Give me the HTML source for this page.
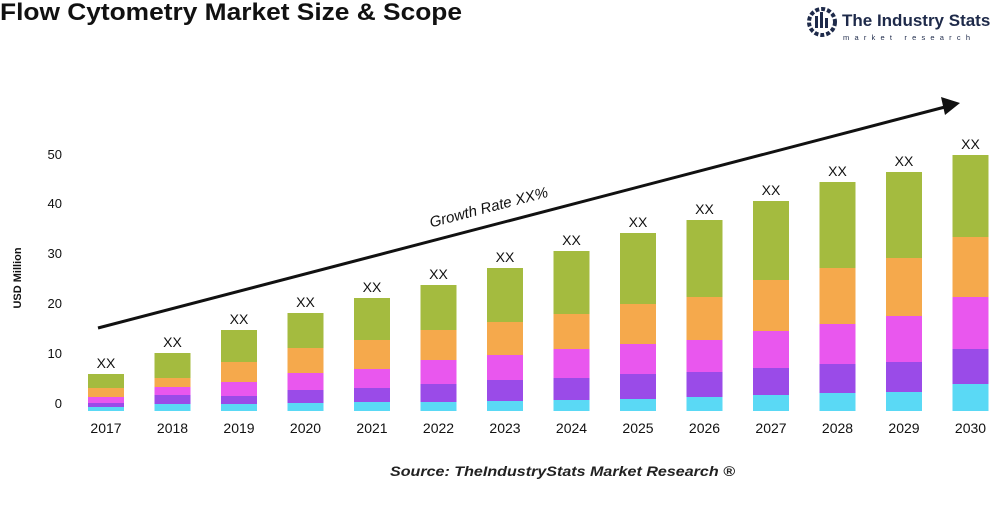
<!DOCTYPE html>
<html><head><meta charset="utf-8"><style>
body{margin:0;background:#fff;}
svg text{font-family:"Liberation Sans",Arial,sans-serif;}
</style></head><body>
<svg width="1000" height="500" viewBox="0 0 1000 500" xmlns="http://www.w3.org/2000/svg">
<text x="0" y="20" font-size="24" font-weight="bold" fill="#111" textLength="462" lengthAdjust="spacingAndGlyphs">Flow Cytometry Market Size &amp; Scope</text>
<g>
<circle cx="822" cy="22" r="13" fill="none" stroke="#1e2a4a" stroke-width="4" stroke-dasharray="4 2"/>
<rect x="815" y="16" width="3" height="12" fill="#1e2a4a"/><rect x="820" y="12" width="3" height="16" fill="#1e2a4a"/><rect x="825" y="18" width="3" height="10" fill="#1e2a4a"/>
<text x="842" y="26" font-size="17" font-weight="bold" fill="#1e2a4a">The Industry Stats</text>
<text x="843" y="40" font-size="7.5" fill="#1e2a4a" letter-spacing="5.2">market research</text>
</g>
<g font-size="13" fill="#111" text-anchor="end">
<text x="62" y="408">0</text><text x="62" y="358">10</text><text x="62" y="308">20</text><text x="62" y="258">30</text><text x="62" y="208">40</text><text x="62" y="159">50</text>
</g>
<text transform="translate(21,278) rotate(-90)" font-size="11" font-weight="bold" text-anchor="middle" fill="#111">USD Million</text>
<g id="bars"></g>
<line x1="98" y1="328" x2="945" y2="107" stroke="#111" stroke-width="3"/>
<polygon points="960,103 941,97 945,115" fill="#111"/>
<text transform="translate(490,212) rotate(-14.7)" font-size="15" font-style="italic" text-anchor="middle" fill="#111">Growth Rate XX%</text>
<text x="390" y="476" font-size="14" font-style="italic" font-weight="bold" fill="#222" textLength="345" lengthAdjust="spacingAndGlyphs">Source: TheIndustryStats Market Research ®</text>
</svg>
<script>
var d=[[374,388,397,403,407],[353,378,387,395,404],[330,362,382,396,404],[313,348,373,390,403],[298,340,369,388,402],[285,330,360,384,402],[268,322,355,380,401],[251,314,349,378,400],[233,304,344,374,399],[220,297,340,372,397],[201,280,331,368,395],[182,268,324,364,393],[172,258,316,362,392],[155,237,297,349,384]];
var c=["#a4bb3f","#f5a94c","#e957ee","#9a4be8","#5ad9f5"];
var g=document.getElementById("bars"),s="";
d.forEach(function(b,i){var cx=106+i*66.5,x=cx-18;b=b.concat([411]);
for(var k=0;k<5;k++)s+='<rect x="'+x+'" y="'+b[k]+'" width="36" height="'+(b[k+1]-b[k])+'" fill="'+c[k]+'"/>';
s+='<text x="'+cx+'" y="'+(b[0]-6)+'" font-size="14" text-anchor="middle" fill="#111">XX</text>';
s+='<text x="'+cx+'" y="433" font-size="14" text-anchor="middle" fill="#111">'+(2017+i)+'</text>';});
g.innerHTML=s;
</script>
</body></html>
